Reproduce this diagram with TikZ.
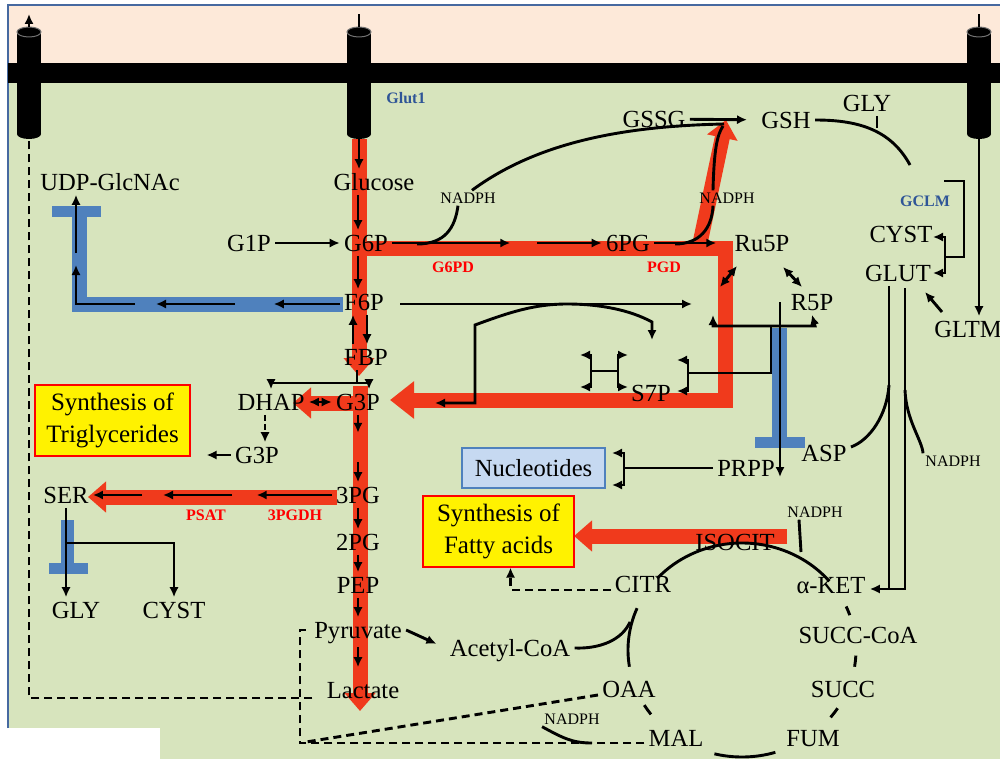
\documentclass[tikz,border=0pt]{standalone}
\usepackage{fontspec}
\setmainfont{Liberation Serif}
\usetikzlibrary{arrows.meta,calc}
\pgfdeclarelayer{bg}
\pgfdeclarelayer{flow}
\pgfsetlayers{bg,flow,main}
\definecolor{cellgreen}{RGB}{215,228,189}
\definecolor{outpink}{RGB}{253,233,217}
\definecolor{fluxred}{RGB}{240,58,28}
\definecolor{blockblue}{RGB}{79,129,189}
\definecolor{protblue}{RGB}{47,85,151}
\definecolor{nucblue}{RGB}{198,217,241}
\definecolor{edgeblue}{RGB}{70,105,160}
\begin{document}
\begin{tikzpicture}[x=0.5pt,y=-0.5pt,>={Latex[length=5pt,width=4.6pt]},
  met/.style={font=\fontsize{12.3}{14}\selectfont,inner sep=2pt,
    text height=8.4pt,text depth=0pt},
  cof/.style={font=\fontsize{8}{9}\selectfont,inner sep=1pt},
  enz/.style={font=\bfseries\fontsize{8}{9}\selectfont,text=red,inner sep=0pt},
  prot/.style={font=\bfseries\fontsize{8}{9}\selectfont,text=protblue,inner sep=0pt},
  synth/.style={draw=red,fill=yellow,line width=0.6pt,align=center,
    font=\fontsize{12.5}{16}\selectfont,inner sep=0pt,minimum height=35.5pt},
  flux/.style={draw=fluxred,line width=7.5pt,-{Triangle[length=9pt,width=15pt]}},
  block/.style={draw=blockblue,line width=7.5pt},
  rxn/.style={line width=1.45pt,->},
  rev/.style={line width=1.45pt,<->},
  link/.style={line width=1.45pt},
  efflux/.style={line width=1.45pt,dash pattern=on 4pt off 2.5pt}]
\useasboundingbox (0,0) rectangle (1000,759);
% cell, membrane and transporters
\begin{pgfonlayer}{bg}
\fill[white] (0,0) rectangle (1000,759);
\fill[outpink] (8,5) rectangle (1000,63);
\fill[cellgreen] (8,63) rectangle (1000,728);
\fill[cellgreen] (160,728) rectangle (1000,759);
\draw[edgeblue,line width=0.6pt] (8,728) -- (8,5) -- (1000,5);
\fill[black] (8,63) rectangle (1000,83);
\foreach \x/\n in {29/tl,359/tg,979/tr}{
  \fill (\x-12,32) rectangle (\x+12,134);
  \fill (\x,134) ellipse [x radius=12,y radius=5];
  \filldraw[draw=black!55,fill=black,line width=0.5pt] (\x,32) ellipse [x radius=12,y radius=5];
  \coordinate (\n) at (\x,139);
  \coordinate (top\n) at (\x,27);
}
\end{pgfonlayer}
% metabolites
\node[met] (glucose) at (374,182) {Glucose};
\node[met] (udp) at (110,182) {UDP-GlcNAc};
\node[met] (g1p) at (249,243) {G1P};
\node[met] (g6p) at (366,243) {G6P};
\node[met] (f6p) at (364,302) {F6P};
\node[met] (fbp) at (366,357) {FBP};
\node[met] (dhap) at (271,402) {DHAP};
\node[met] (g3p) at (358,402) {G3P};
\node[met] (g3pl) at (257,455) {G3P};
\node[met] (pg3) at (358,495) {3PG};
\node[met] (pg2) at (358,542) {2PG};
\node[met] (pep) at (358,585) {PEP};
\node[met] (pyr) at (358,630) {Pyruvate};
\node[met] (lac) at (363,690) {Lactate};
\node[met] (acoa) at (510,648) {Acetyl-CoA};
\node[met] (ser) at (66,495) {SER};
\node[met] (glyl) at (76,610) {GLY};
\node[met] (cystl) at (174,610) {CYST};
\node[met] (pg6) at (628,243) {6PG};
\node[met] (ru5p) at (762,243) {Ru5P};
\node[met] (r5p) at (812,302) {R5P};
\node[met] (s7p) at (651,393) {S7P};
\node[met] (gssg) at (654,119) {GSSG};
\node[met] (gsh) at (786,120) {GSH};
\node[met] (gly) at (867,103) {GLY};
\node[met] (cyst) at (901,234) {CYST};
\node[met] (glut) at (898,273) {GLUT};
\node[met] (gltm) at (968,329) {GLTM};
\node[met] (prpp) at (746,468) {PRPP};
\node[met] (asp) at (824,453) {ASP};
\node[met] (isocit) at (735,542) {ISOCIT};
\node[met] (citr) at (643,584) {CITR};
\node[met] (akg) at (831,585) {α-KET};
\node[met] (succoa) at (858,635) {SUCC-CoA};
\node[met] (succ) at (843,689) {SUCC};
\node[met] (fum) at (813,738) {FUM};
\node[met] (mal) at (676,738) {MAL};
\node[met] (oaa) at (629,689) {OAA};
\node[cof] (nadA) at (468,198) {NADPH};
\node[cof] (nadB) at (727,198) {NADPH};
\node[cof] (nadC) at (953,461) {NADPH};
\node[cof] (nadD) at (815,512) {NADPH};
\node[cof] (nadE) at (572,719) {NADPH};
\node[enz] (g6pd) at (453,267) {G6PD};
\node[enz] (pgd) at (664,267) {PGD};
\node[enz] (psat) at (206,515) {PSAT};
\node[enz] (pgdh) at (295,515) {3PGDH};
\node[prot] (glut1) at (406,98) {Glut1};
\node[prot] (gclm) at (925,201) {GCLM};
\node[synth,minimum width=77.5pt] (trig) at (112.5,420.5) {Synthesis of\\Triglycerides};
\node[synth,minimum width=75.5pt] (fat) at (498.5,531.5) {Synthesis of\\Fatty acids};
\node[draw=blockblue,fill=nucblue,line width=0.6pt,minimum width=71.5pt,
  minimum height=20pt,inner sep=0pt,font=\fontsize{12.3}{14}\selectfont] (nuc) at (533.5,468) {Nucleotides};
% main fluxes and blocked routes
\begin{pgfonlayer}{flow}
\draw[flux] (tg) -- (359,376);
\draw[flux] (360,386) -- (360,711);
\draw[flux] (367,403) -- (293,403);
\draw[flux,line join=miter,-{Triangle[length=12pt,width=18pt]}]
  (352,248) -- (725,248) -- (725,400) -- (390,400);
\draw[flux] (699,248) -- (726,120);
\draw[flux] (337,497) -- (88,497);
\draw[flux] (787,536) -- (574,536);
\draw[block,line join=miter] (343,304.5) -- (79,304.5) -- (79,212);
\draw[block,line width=5.5pt] (52,211.5) -- (101,211.5);
\draw[block] (779.5,328) -- (779.5,438);
\draw[block,line width=5.5pt] (755,442.5) -- (805,442.5);
\draw[block,line width=6.5pt] (67.5,520) -- (67.5,565);
\draw[block,line width=5.5pt] (49,568.5) -- (88,568.5);
\end{pgfonlayer}
% transport
\draw[rxn] (toptl) -- ++(0,-13);
\draw[link] (toptg) -- ++(0,-13);
\draw[link] (toptr) -- ++(0,-13);
% glycolysis
\coordinate (colx) at (358,0);
\draw[rxn] (tg) -- (glucose.north -| tg);
\draw[rxn] (glucose.south -| colx) -- (g6p.north -| colx);
\draw[rxn] (g1p) -- (g6p);
\draw[rxn] (g6p.south -| colx) -- (f6p.north -| colx);
\draw[rxn] ($(fbp.north)+(-13,0)$) -- ($(f6p.south)+(-11,0)$);
\draw[rxn] ($(f6p.south)+(3,0)$) -- ($(fbp.north)+(1,0)$);
\coordinate (split) at (357,383);
\draw[link] (fbp.south -| split) -- (split);
\draw[rxn] (split) -| (dhap.north);
\draw[rxn] (split) -| ([xshift=5.5pt]g3p.north);
\draw[rev] (dhap) -- (g3p);
\draw[rxn,dash pattern=on 3pt off 1.5pt] ([xshift=-3pt]dhap.south) -- ([xshift=-3pt]dhap.south |- g3pl.north);
\draw[rxn,shorten >=8pt] (g3pl) -- (trig.east |- g3pl);
\draw[rxn] (g3p.south -| colx) -- ++(0,18);
\draw[rxn] ($(pg3.north -| colx)+(0,-20)$) -- (pg3.north -| colx);
\draw[rxn] (pg3.south -| colx) -- (pg2.north -| colx);
\draw[rxn] (pg2.south -| colx) -- (pep.north -| colx);
\draw[rxn] (pep.south -| colx) -- (pyr.north -| colx);
\draw[rxn,shorten <=2pt,shorten >=5pt] (pyr.south -| colx) -- (lac.north -| colx);
\draw[rxn,shorten >=5pt] (pyr.east) -- (acoa.west);
% serine branch
\draw[rxn] (pg3.west) -- ++(-75,0);
\draw[rxn] (232,495) -- (163,495);
\draw[rxn] (142,495) -- (ser);
\draw[rxn] (ser.south) -- (ser.south |- glyl.north);
\coordinate (serbr) at (67,543);
\draw[rxn] (serbr) -| (cystl.north);
% hexosamine branch
\draw[rxn] ([yshift=-1pt]f6p.west) -- ++(-66,0);
\draw[rxn] (235,304) -- (156,304);
\draw[rxn] (135,304) -| (76,265);
\coordinate (udpin) at (76,253);
\draw[rxn] (udpin) -- (udpin |- udp.south);
% pentose phosphate
\draw[rxn,shorten <=6pt] ([yshift=-1pt]f6p.east) -- (692,304);
\draw[rxn] (g6p.east) -- ++(118,0);
\draw[rxn] (537,243) -- (pg6.west);
\draw[rxn] (pg6.east) -- ++(62,0);
\draw[rev] (737,266) -- (720,287);
\draw[rev] (783,267) -- (802,287);
\draw[rev] (435,403) -| (475,325) .. controls (510,312) and (535,304) .. (567,304)
  .. controls (600,304) and (630,310) .. (652,322) -- (652,340);
\draw[rev] (580,355) -| (591,387) -- (580,387);
\draw[rev] (628,355) -| (618,387) -- (628,387);
\draw[link] (591,371) -- (618,371);
\draw[rev] (677,360) -| (688,391) -- (677,391);
\draw[link] (688,373) -| (771,326);
\draw[rev] (713,315) |- (815,326) -- (r5p.south);
\draw[rxn] (780,302) -- (780,477);
\draw[link] (prpp.west) -- (624,468);
\draw[rev] (612,453) -| (624,485) -- (612,485);
% glutathione
\draw[link] (417,244) .. controls (445,244) and (455,228) .. ([xshift=-5pt]nadA.south);
\draw[link] ([xshift=2pt]nadA.north) .. controls (540,140) and (630,126) .. (724,124);
\draw[link] (675,244) .. controls (700,244) and (712,228) .. ([xshift=-7pt]nadB.south);
\draw[link] ([xshift=-7pt]nadB.north) .. controls (714,150) and (717,135) .. (723,126);
\draw[rxn,shorten >=5pt] (gssg) -- (gsh);
\draw[link] (gsh.east) .. controls (855,120) and (890,128) .. (910,165);
\draw[link] ([xshift=5pt]gly.south) -- ++(0,12);
\draw[link] (944,181) -| (964,257) -- (945,257);
\draw[rev] (933,237) -| (945,273) -- (933,273);
\draw[rxn] (tr) -- (gltm.north -| tr);
\draw[rxn] (942,312) -- (925,292);
% glutamate to TCA
\coordinate (gin) at (889,0);
\draw[link] (glut.south -| gin) -- (889,589);
\draw[rxn] (905,288) |- ([yshift=-2pt]akg.east);
\draw[link] ([yshift=3pt]asp.east) .. controls (870,440) and (887,415) .. (889,385);
\draw[link] (905,390) .. controls (906,420) and (922,440) .. (nadC.north west);
% TCA cycle
\coordinate (tca) at (742,650);
\foreach \a/\b in {-138/-40,-24/-19,3/9,33/39,73/104,143/149,171/203}
  \draw[link] (tca) ++(\a:114 and 107) arc[start angle=\a,end angle=\b,x radius=114,y radius=107];
\draw[link] (acoa.east) .. controls (600,649) and (622,640) .. (630,622);
\draw[link] ([xshift=-8pt]nadD.south) -- (801,552);
\draw[rxn,efflux] ([yshift=-3pt]citr.west) -| ([xshift=6pt]fat.south);
% export routes
\draw[efflux] ([yshift=-3pt]oaa.west) -- (306,742);
\draw[efflux] ([yshift=-2.5pt]mal.west) -- (300,743) |- (pyr.west);
\draw[link] (nadE.south west) .. controls (563,738) and (572,743) .. (592,743);
\draw[efflux] ([xshift=-5pt,yshift=-4pt]lac.west) -| (tl);
\end{tikzpicture}
\end{document}
